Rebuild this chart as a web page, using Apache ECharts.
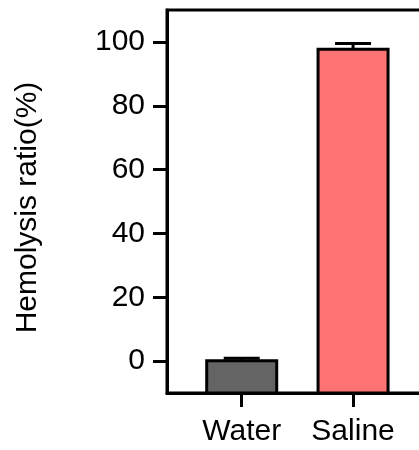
<!DOCTYPE html>
<html>
<head>
<meta charset="utf-8">
<style>html,body{margin:0;padding:0;background:#fff;}#c{width:419px;height:450px;}</style>
<script src="https://cdn.jsdelivr.net/npm/echarts@6/dist/echarts.min.js"></script>
</head>
<body>
<div id="c"></div>
<script>
var categories = ['Water', 'Saline'];
var positions = [1, 2];
var means = [0.1, 97.7];
var errors = [0.8, 1.8];
var colors = ['#646464', '#FF7373'];
var yTicks = [0, 20, 40, 60, 80, 100];
var yMin = -10, yMax = 110;

var data = positions.map(function (p, i) { return [p, means[i], errors[i], i]; });

var chart = echarts.init(document.getElementById('c'));
var font = 'Liberation Sans, Arial, sans-serif';
chart.setOption({
  animation: false,
  grid: { left: 167, right: -12, top: 10, bottom: 57, outerBoundsMode: 'none', containLabel: false,
    show: true, borderColor: '#000', borderWidth: 3, backgroundColor: 'transparent' },
  xAxis: {
    type: 'value', min: 0.329, max: 2.7,
    splitLine: { show: false },
    axisLine: { show: true, onZero: false, lineStyle: { color: '#000', width: 3 } },
    axisTick: { show: true, length: 14, lineStyle: { color: '#000', width: 3 }, customValues: positions },
    axisLabel: { customValues: positions, margin: 24, color: '#000', fontSize: 30, fontFamily: font,
      formatter: function (v) { var i = positions.indexOf(Math.round(v)); return i >= 0 ? categories[i] : ''; } }
  },
  yAxis: {
    type: 'value', min: yMin, max: yMax,
    name: 'Hemolysis ratio(%)', nameLocation: 'middle', nameGap: 124,
    nameTextStyle: { color: '#000', fontSize: 30, fontFamily: font, padding: [0, 12, 0, 0] },
    splitLine: { show: false },
    axisLine: { show: true, onZero: false, lineStyle: { color: '#000', width: 3 } },
    axisTick: { show: true, length: 14, lineStyle: { color: '#000', width: 3 }, customValues: yTicks },
    axisLabel: { customValues: yTicks, margin: 22, color: '#000', fontSize: 30, fontFamily: font }
  },
  series: [{
    type: 'custom',
    data: data,
    encode: { x: 0, y: 1 },
    clip: false,
    renderItem: function (params, api) {
      var x = api.value(0), m = api.value(1), e = api.value(2), idx = api.value(3);
      var base = api.coord([x, yMin]);
      var top = api.coord([x, m]);
      var cap = api.coord([x, m + e]);
      var bw = 70, cw = 36;
      return {
        type: 'group',
        children: [
          { type: 'line', shape: { x1: top[0], y1: top[1], x2: cap[0], y2: cap[1] }, style: { stroke: '#000', lineWidth: 3 } },
          { type: 'line', shape: { x1: cap[0] - cw / 2, y1: cap[1], x2: cap[0] + cw / 2, y2: cap[1] }, style: { stroke: '#000', lineWidth: 3 } },
          { type: 'rect', shape: { x: top[0] - bw / 2, y: top[1], width: bw, height: base[1] - top[1] },
            style: { fill: colors[idx], stroke: '#000', lineWidth: 3 } }
        ]
      };
    }
  }]
});
</script>
</body>
</html>
